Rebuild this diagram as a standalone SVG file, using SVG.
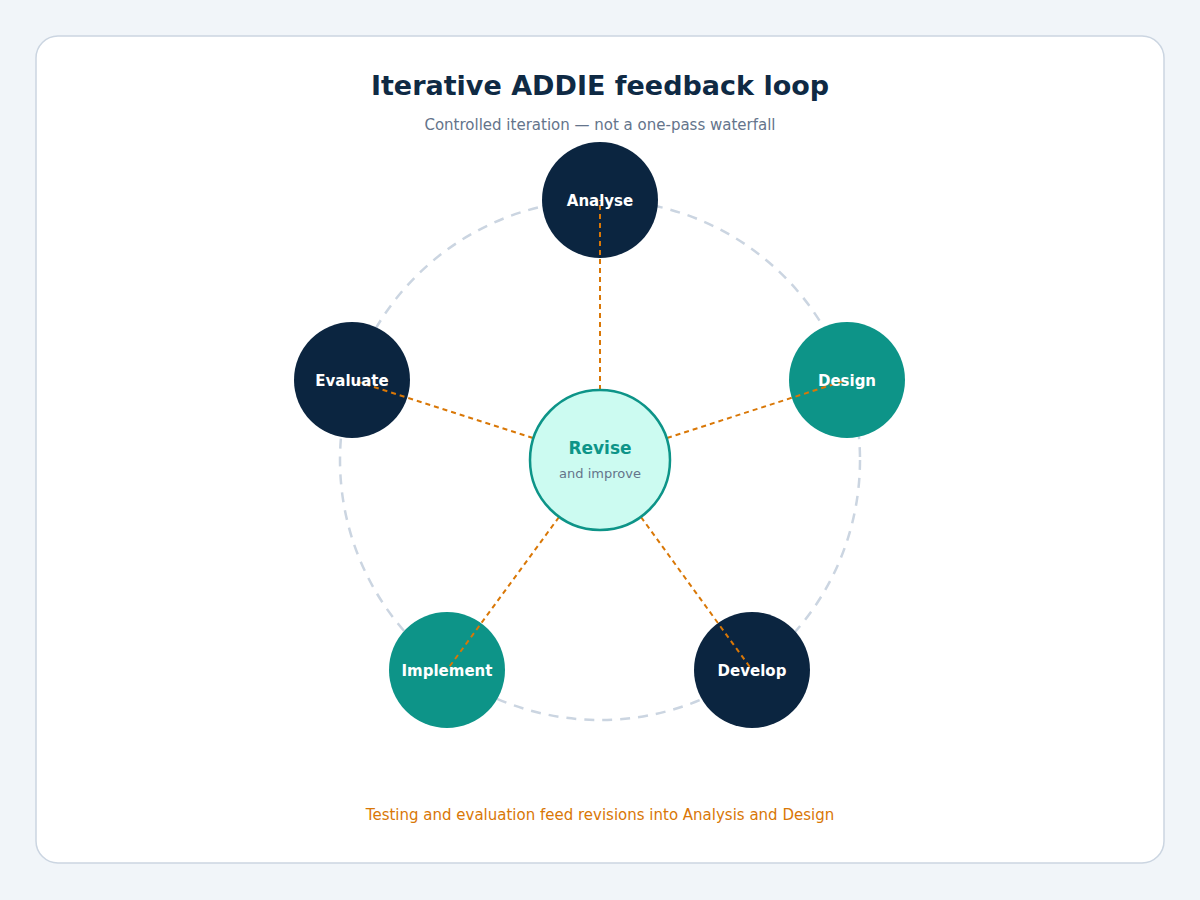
<svg xmlns="http://www.w3.org/2000/svg" width="1200" height="900" viewBox="0 0 1200 900">
<style>
text{font-family:"DejaVu Sans",sans-serif;text-anchor:middle}
.lbl{fill:#fff;font-size:15px;font-weight:bold}
.navy{fill:#0b2540}
.teal{fill:#0d9488}
.link{stroke:#d97706;stroke-width:2;stroke-dasharray:5 4;fill:none}
</style>
<rect width="1200" height="900" fill="#f1f5f9"/>
<rect x="36" y="36" width="1128" height="827" rx="22" fill="#fff" stroke="#cbd5e1" stroke-width="1.5"/>
<text x="600" y="95" font-size="27" font-weight="bold" fill="#0f2a44">Iterative ADDIE feedback loop</text>
<text x="600" y="130" font-size="15" fill="#64748b">Controlled iteration — not a one-pass waterfall</text>
<circle cx="600" cy="460" r="260" fill="none" stroke="#cbd5e1" stroke-width="2.5" stroke-dasharray="10 8"/>
<g id="analyse"><circle class="navy" cx="600" cy="200" r="58"/></g>
<g id="design"><circle class="teal" cx="847" cy="380" r="58"/></g>
<g id="develop"><circle class="navy" cx="752" cy="670" r="58"/></g>
<g id="implement"><circle class="teal" cx="447" cy="670" r="58"/></g>
<g id="evaluate"><circle class="navy" cx="352" cy="380" r="58"/></g>
<g id="connectors">
<line class="link" x1="600" y1="390" x2="600" y2="200"/>
<line class="link" x1="667" y1="438" x2="847" y2="380"/>
<line class="link" x1="641" y1="517" x2="752" y2="670"/>
<line class="link" x1="559" y1="517" x2="447" y2="670"/>
<line class="link" x1="533" y1="438" x2="352" y2="380"/>
</g>
<text class="lbl" x="600" y="206">Analyse</text>
<text class="lbl" x="847" y="386">Design</text>
<text class="lbl" x="752" y="676">Develop</text>
<text class="lbl" x="447" y="676">Implement</text>
<text class="lbl" x="352" y="386">Evaluate</text>
<g id="revise">
<circle cx="600" cy="460" r="70" fill="#ccfbf1" stroke="#0d9488" stroke-width="2.5"/>
<text x="600" y="454" font-size="17" font-weight="bold" fill="#0d9488">Revise</text>
<text x="600" y="478" font-size="13" fill="#64748b">and improve</text>
</g>
<text x="600" y="820" font-size="15" fill="#d97706">Testing and evaluation feed revisions into Analysis and Design</text>
</svg>
